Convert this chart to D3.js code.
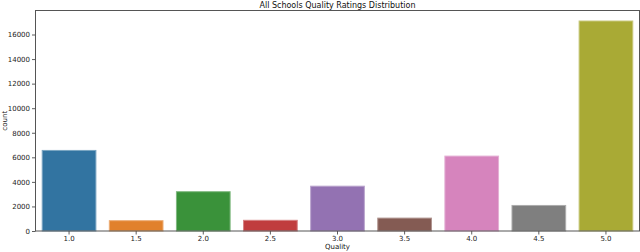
<!DOCTYPE html>
<html>
<head>
<meta charset="utf-8">
<script src="https://cdn.jsdelivr.net/npm/d3@7"></script>
<style>
  body { margin: 0; background: #fff; }
  svg { display: block; font-family: "DejaVu Sans", sans-serif; }
</style>
</head>
<body>
<svg id="chart" width="640" height="252"></svg>
<script>
const qualities = ['1.0', '1.5', '2.0', '2.5', '3.0', '3.5', '4.0', '4.5', '5.0']
const counts = [6560, 840, 3200, 870, 3650, 1050, 6100, 2080, 17100]
const colors = ['#3274a1', '#e1812c', '#3a923a', '#c03d3e', '#9372b2', '#845b53', '#d684bd', '#7f7f7f', '#a9aa35']
const yTicks = [0, 2000, 4000, 6000, 8000, 10000, 12000, 14000, 16000]

const margin = { top: 10.5, right: 0.5, bottom: 21, left: 35.5 }
const width = 640, height = 252

const svg = d3.select('#chart')

const x = d3.scaleBand()
  .domain(qualities)
  .range([margin.left, width - margin.right])
  .paddingInner(0.2)
  .paddingOuter(0.1)

const y = d3.scaleLinear()
  .domain([0, d3.max(counts) * 1.05])
  .range([height - margin.bottom, margin.top])

svg.selectAll('rect.bar')
  .data(counts)
  .enter()
  .append('rect')
  .attr('class', 'bar')
  .attr('x', (d, i) => x(qualities[i]))
  .attr('width', x.bandwidth())
  .attr('y', d => y(d))
  .attr('height', d => y(0) - y(d))
  .attr('fill', (d, i) => colors[i])
  .attr('stroke', (d, i) => d3.interpolateRgb(colors[i], '#fff')(0.35))
  .attr('stroke-width', 1)

// axes
const xAxis = svg.append('g')
  .attr('transform', `translate(0,${height - margin.bottom})`)
  .call(d3.axisBottom(x).tickSize(3.5).tickPadding(2))
const yAxis = svg.append('g')
  .attr('transform', `translate(${margin.left},0)`)
  .call(d3.axisLeft(y).tickValues(yTicks).tickFormat(d3.format('d')).tickSize(3.5).tickPadding(2))

for (const g of [xAxis, yAxis]) {
  g.select('.domain').remove()
  g.selectAll('text').attr('font-size', 7).attr('fill', '#222').attr('font-family', '"DejaVu Sans", sans-serif')
  g.selectAll('line').attr('stroke', '#333').attr('stroke-width', 0.8)
}

// spines
svg.append('rect')
  .attr('x', margin.left)
  .attr('y', margin.top)
  .attr('width', width - margin.right - margin.left)
  .attr('height', height - margin.bottom - margin.top)
  .attr('fill', 'none')
  .attr('stroke', '#555')
  .attr('stroke-width', 1)

svg.append('text')
  .attr('x', (margin.left + width - margin.right) / 2)
  .attr('y', 7.5)
  .attr('text-anchor', 'middle')
  .attr('font-size', 8)
  .attr('fill', '#111')
  .text('All Schools Quality Ratings Distribution')

svg.append('text')
  .attr('x', (margin.left + width - margin.right) / 2)
  .attr('y', 249)
  .attr('text-anchor', 'middle')
  .attr('font-size', 7)
  .attr('fill', '#111')
  .text('Quality')

svg.append('text')
  .attr('transform', `translate(7,${(margin.top + height - margin.bottom) / 2}) rotate(-90)`)
  .attr('text-anchor', 'middle')
  .attr('font-size', 7)
  .attr('fill', '#111')
  .text('count')
</script>
</body>
</html>
